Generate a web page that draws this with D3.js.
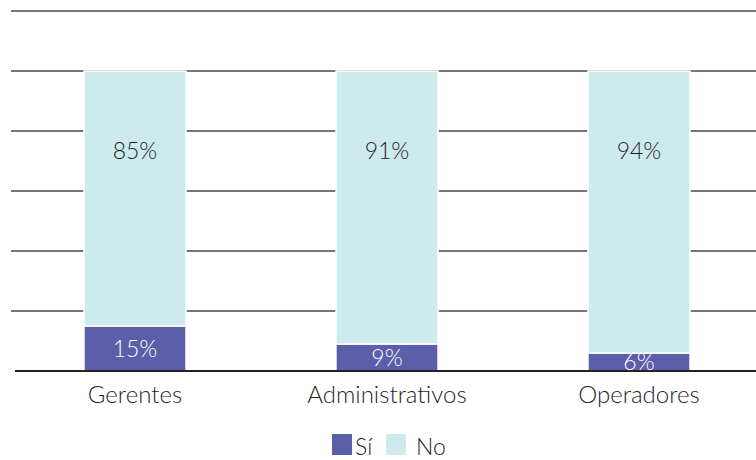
<!DOCTYPE html>
<html>
<head>
<meta charset="utf-8">
<script src="https://cdn.jsdelivr.net/npm/d3@7"></script>
<style>
  html, body { margin: 0; padding: 0; background: #fff; }
  svg { display: block; }
  text { font-family: Lato, "Open Sans", sans-serif; font-weight: 300; }
</style>
</head>
<body>
<svg id="chart" width="756" height="460"></svg>
<script>
const categories = ["Gerentes", "Administrativos", "Operadores"];
const siValues = [15, 9, 6];
const noValues = [85, 91, 94];
const yTicks = [0, 20, 40, 60, 80, 100, 120];
const seriesNames = ["Sí", "No"];
const colors = { "Sí": "#5b5ea8", "No": "#cdeaec" };

const svg = d3.select("#chart");
const W = 756;

const x = d3.scaleBand().domain(categories).range([9, 765]).paddingInner(0.595).paddingOuter(0.2975);
const y = d3.scaleLinear().domain([0, 120]).range([371, 11]);

// gridlines
svg.append("g").selectAll("line").data(yTicks.filter(t => t > 0)).join("line")
  .attr("x1", 11).attr("x2", W)
  .attr("y1", d => y(d)).attr("y2", d => y(d))
  .attr("stroke", "#4a4a4a").attr("stroke-width", 1.6);

const data = categories.map((c, i) => ({ cat: c, si: siValues[i], no: noValues[i] }));
const stack = d3.stack().keys(["si", "no"])(data);

const g = svg.append("g");
stack.forEach((layer, li) => {
  const name = seriesNames[li];
  g.selectAll(null).data(layer).join("rect")
    .attr("x", d => x(d.data.cat))
    .attr("width", x.bandwidth())
    .attr("y", d => y(d[1]))
    .attr("height", d => y(d[0]) - y(d[1]))
    .attr("fill", colors[name])
    .attr("stroke", "#fff").attr("stroke-width", 1.5);
});

// baseline axis
svg.append("line").attr("x1", 15).attr("x2", W)
  .attr("y1", y(0)).attr("y2", y(0))
  .attr("stroke", "#222").attr("stroke-width", 2);

// No labels
g.selectAll(null).data(stack[1]).join("text")
  .attr("x", d => x(d.data.cat) + x.bandwidth() / 2)
  .attr("y", d => y(100) + 88)
  .attr("text-anchor", "middle")
  .attr("font-size", 23).attr("fill", "#1f1f1f")
  .text(d => d.data.no + "%");
// Sí labels
g.selectAll(null).data(stack[0]).join("text")
  .attr("x", d => x(d.data.cat) + x.bandwidth() / 2)
  .attr("y", d => (y(d[0]) + y(d[1])) / 2 + 8)
  .attr("text-anchor", "middle")
  .attr("font-size", 23).attr("fill", "#fff")
  .text(d => d.data.si + "%");

// x axis labels
const xAxis = d3.axisBottom(x).tickSize(0).tickPadding(0);
const ax = svg.append("g").attr("transform", `translate(0,${y(0)})`).call(xAxis);
ax.select(".domain").remove();
ax.selectAll("text").attr("font-size", 24).attr("fill", "#1f1f1f")
  .attr("dy", 0).attr("y", 32)
  .style("font-family", "Lato, 'Open Sans', sans-serif").style("font-weight", 300);

// legend
const legend = svg.append("g");
const legendItems = [
  { name: "Sí", x: 332, tx: 355 },
  { name: "No", x: 386, tx: 416 }
];
legendItems.forEach(it => {
  legend.append("rect").attr("x", it.x).attr("y", 434).attr("width", 20).attr("height", 21)
    .attr("fill", colors[it.name]);
  legend.append("text").attr("x", it.tx).attr("y", 455)
    .attr("font-size", 23).attr("fill", "#1f1f1f").text(it.name);
});
</script>
</body>
</html>
